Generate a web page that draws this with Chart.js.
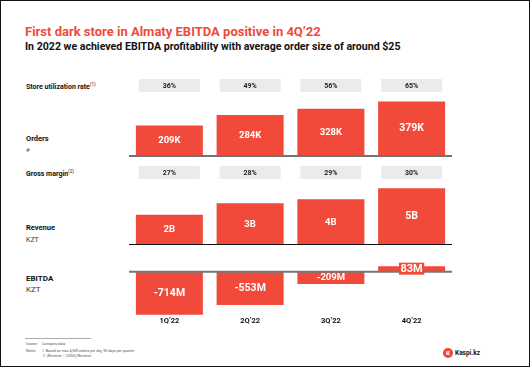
<!DOCTYPE html>
<html lang="en">
<head>
    <meta charset="UTF-8">
    <title>Dark store EBITDA</title>
    <script src="https://cdn.jsdelivr.net/npm/chart.js"></script>
    <style>
        body {
            margin: 0;
            background: #fff;
            font-family: Roboto, Arial, sans-serif;
        }

        .page {
            position: relative;
            width: 530px;
            height: 367px;
            border: 1.5px solid #111;
            box-sizing: border-box;
            overflow: hidden;
        }

        .txt {
            position: absolute;
            white-space: nowrap;
            line-height: 1;
            color: #111;
        }

        .b { font-weight: bold; }

        sup {
            font-size: 4.5px;
            vertical-align: 3px;
            font-weight: normal;
        }

        canvas {
            position: absolute;
            left: 128px;
        }

        .rule {
            position: absolute;
            left: 24px;
            top: 337px;
            width: 66px;
            height: 1px;
            background: #aaa;
        }

        .logo {
            position: absolute;
            left: 442px;
            top: 347px;
            width: 10px;
            height: 10px;
            border-radius: 50%;
            background: #f14635;
        }
    </style>
</head>
<body>
<div class="page">
    <div class="txt b" style="left:24px;top:24px;font-size:13px;color:#f04a3a">First dark store in Almaty EBITDA positive in 4Q’22</div>
    <div class="txt b" style="left:24px;top:40.5px;font-size:10.6px">In 2022 we achieved EBITDA profitability with average order size of around $25</div>

    <div class="txt b" style="left:25px;top:82px;font-size:7px">Store utilization rate<sup>(1)</sup></div>
    <div class="txt b" style="left:25px;top:134px;font-size:7.5px">Orders</div>
    <div class="txt" style="left:25px;top:146px;font-size:6px;color:#555">#</div>
    <div class="txt b" style="left:25px;top:169px;font-size:7px">Gross margin<sup>(2)</sup></div>
    <div class="txt b" style="left:25px;top:223px;font-size:7.5px">Revenue</div>
    <div class="txt" style="left:25px;top:236px;font-size:7px;color:#333">KZT</div>
    <div class="txt b" style="left:25px;top:274px;font-size:8px">EBITDA</div>
    <div class="txt" style="left:25px;top:285px;font-size:8px;color:#333">KZT</div>

    <canvas id="utilChart" width="323" height="13" style="top:78px"></canvas>
    <canvas id="ordersChart" width="323" height="64" style="top:93px"></canvas>
    <canvas id="marginChart" width="323" height="13" style="top:165px"></canvas>
    <canvas id="revenueChart" width="323" height="68" style="top:179px"></canvas>
    <canvas id="ebitdaChart" width="323" height="67" style="top:258px"></canvas>

    <div class="rule"></div>
    <div class="txt" style="left:25px;top:342px;font-size:3.6px;color:#555">Source</div>
    <div class="txt" style="left:41px;top:342px;font-size:3.6px;color:#555">Company data</div>
    <div class="txt" style="left:25px;top:349px;font-size:3.6px;color:#555">Notes</div>
    <div class="txt" style="left:41px;top:349px;font-size:3.6px;color:#555">1. Based on max 4,500 orders per day, 90 days per quarter</div>
    <div class="txt" style="left:42px;top:354px;font-size:3.6px;color:#555">2. (Revenue − COGS)/Revenue</div>

    <div class="logo"></div>
    <div class="txt b" style="left:445px;top:348.5px;font-size:7px;color:#fff">ĸ</div>
    <div class="txt b" style="left:454px;top:349px;font-size:6.5px">Kaspi.kz</div>
</div>
<script>
    // data
    const quarters = ['1Q’22', '2Q’22', '3Q’22', '4Q’22'];
    const utilization = [36, 49, 56, 65];          // %
    const grossMargin = [27, 28, 29, 30];          // %
    const orders = [209, 284, 328, 379];           // thousands
    const revenue = [2.4, 3.35, 3.68, 4.6];        // bn KZT
    const revenueLabels = ['2B', '3B', '4B', '5B'];
    const ebitda = [-714, -553, -209, 83];         // mn KZT

    const red = '#f24a3a';
    const font = 'Roboto, Arial, sans-serif';

    // writes the value labels and the zero line
    function labelsPlugin(texts, sizes, color, line) {
        return {
            id: 'labels',
            afterDatasetsDraw(chart) {
                const ctx = chart.ctx;
                const area = chart.chartArea;
                if (line) {
                    const y0 = chart.scales.y.getPixelForValue(0) + line.offset;
                    ctx.save();
                    ctx.strokeStyle = line.color;
                    ctx.lineWidth = line.width;
                    ctx.beginPath();
                    ctx.moveTo(area.left, y0);
                    ctx.lineTo(area.right, y0);
                    ctx.stroke();
                    ctx.restore();
                }
                const meta = chart.getDatasetMeta(0);
                ctx.save();
                ctx.textAlign = 'center';
                ctx.textBaseline = 'middle';
                meta.data.forEach((bar, i) => {
                    const size = sizes[i];
                    ctx.font = 'bold ' + size + 'px ' + font;
                    const cy = (bar.y + bar.base) / 2;
                    if (Math.abs(bar.base - bar.y) < size) {
                        const w = ctx.measureText(texts[i]).width + 3;
                        ctx.fillStyle = red;
                        ctx.fillRect(bar.x - w / 2, cy - size / 2 - 0.5, w, size + 1);
                    }
                    ctx.fillStyle = color;
                    ctx.fillText(texts[i], bar.x, cy + 0.5);
                });
                ctx.restore();
            }
        };
    }

    function barChart(id, values, min, max, opts) {
        return new Chart(document.getElementById(id), {
            type: 'bar',
            data: {
                labels: quarters,
                datasets: [{
                    data: values,
                    backgroundColor: opts.color,
                    borderWidth: 0,
                    barPercentage: opts.barPct,
                    categoryPercentage: 1
                }]
            },
            options: {
                responsive: false,
                animation: false,
                events: [],
                layout: { padding: { left: 0, right: 0, top: 0, bottom: opts.padBottom || 0 } },
                plugins: { legend: { display: false }, tooltip: { enabled: false } },
                scales: {
                    x: {
                        display: !!opts.showX,
                        grid: { display: false, drawTicks: false, tickLength: 0 },
                        border: { display: false },
                        ticks: { color: '#111', padding: 0, font: { family: font, size: 7.5, weight: 'bold' } }
                    },
                    y: { display: false, min: min, max: max }
                }
            },
            plugins: [opts.plugin]
        });
    }

    const pillBox = v => v.map(() => [0, 1]);

    barChart('utilChart', pillBox(utilization), 0, 1, {
        color: '#ebebeb', barPct: 0.755,
        plugin: labelsPlugin(utilization.map(v => v + '%'), [7, 7, 7, 7], '#222')
    });

    barChart('ordersChart', orders, 0, 432, {
        color: red, barPct: 0.83, padBottom: 3,
        plugin: labelsPlugin(orders.map(v => v + 'K'), [9.5, 9.5, 9.5, 10.5], '#fff',
            { color: '#737373', width: 2, offset: 1 })
    });

    barChart('marginChart', pillBox(grossMargin), 0, 1, {
        color: '#ebebeb', barPct: 0.755,
        plugin: labelsPlugin(grossMargin.map(v => v + '%'), [7, 7, 7, 7], '#222')
    });

    barChart('revenueChart', revenue, 0, 5.27, {
        color: red, barPct: 0.83, padBottom: 4,
        plugin: labelsPlugin(revenueLabels, [9.5, 9.5, 9.5, 10.5], '#fff',
            { color: '#111', width: 1, offset: 0.5 })
    });

    barChart('ebitdaChart', ebitda, -750, 200, {
        color: red, barPct: 0.83, showX: true,
        plugin: labelsPlugin(ebitda.map(v => v + 'M'), [10.5, 10.5, 9.5, 11], '#fff',
            { color: '#777', width: 2, offset: 0.5 })
    });
</script>
</body>
</html>
